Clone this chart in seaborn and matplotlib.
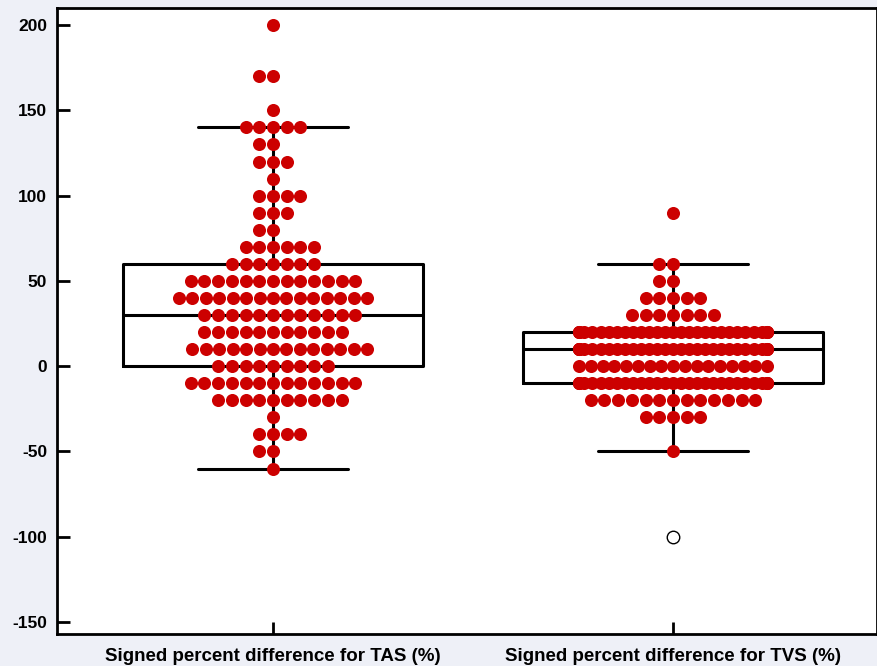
import numpy as np
import pandas as pd
import matplotlib
matplotlib.use("Agg")
import matplotlib.pyplot as plt
import seaborn as sns

# categories
cats = ["Signed percent difference for TAS (%)", "Signed percent difference for TVS (%)"]

# TAS: value levels (%) and how many patients sit on each level
tas_levels = [200, 170, 150, 140, 130, 120, 110, 100, 90, 80, 70, 60, 50, 40,
              30, 20, 10, 0, -10, -20, -30, -40, -50, -60]
tas_counts = [1, 2, 1, 5, 2, 3, 1, 4, 3, 2, 6, 7, 13, 15,
              12, 11, 14, 9, 13, 10, 1, 4, 2, 1]

# TVS: same thing
tvs_levels = [90, 60, 50, 40, 30, 20, 10, 0, -10, -20, -30, -50]
tvs_counts = [1, 2, 2, 5, 7, 29, 30, 17, 29, 13, 5, 1]
tvs_far_out = [-100]   # drawn as open circle only

red = "#cc0000"
bg = "#eef0f7"

tas_vals = np.repeat(tas_levels, tas_counts)
tvs_vals = np.repeat(tvs_levels, tvs_counts)

dots = pd.DataFrame({
    "measure": [cats[0]] * len(tas_vals) + [cats[1]] * len(tvs_vals),
    "value": np.concatenate([tas_vals, tvs_vals]).astype(float),
})
far = pd.DataFrame({"measure": [cats[1]] * len(tvs_far_out), "value": tvs_far_out})
allv = pd.concat([dots, far], ignore_index=True)

sns.set_style("white")
plt.rcParams["font.family"] = ["Liberation Sans", "DejaVu Sans"]
plt.rcParams["font.weight"] = "bold"
plt.rcParams["axes.unicode_minus"] = False

fig = plt.figure(figsize=(8.78, 6.66), dpi=100, facecolor=bg)
ax = fig.add_axes([57 / 878, 32 / 666, 820 / 878, 626 / 666])
ax.set_facecolor("white")

sns.boxplot(data=allv, x="measure", y="value", order=cats, whis=1.4,
            width=0.75, fill=False, color="black", linewidth=2.2,
            showfliers=False, ax=ax)

n0 = len(ax.collections)
sns.swarmplot(data=dots, x="measure", y="value", order=cats, color=red,
              size=9.4, linewidth=0, warn_thresh=1, zorder=3, ax=ax)
swarms = ax.collections[n0:]

ax.set_xlim(-0.54, 1.51)
ax.set_ylim(-157, 210)

# let seaborn lay out the swarms, then squeeze over-wide rows like the original
fig.canvas.draw()
limit = 0.235
for coll in swarms:
    if "draw" in coll.__dict__:
        del coll.draw
    xy = np.array(coll.get_offsets())
    if len(xy) == 0:
        continue
    center = np.round(np.median(xy[:, 0]))
    for yv in np.unique(xy[:, 1]):
        idx = xy[:, 1] == yv
        dx = xy[idx, 0] - center
        span = np.abs(dx).max()
        if span > limit:
            xy[idx, 0] = center + dx * limit / span
    coll.set_offsets(xy)

sns.stripplot(data=far, x="measure", y="value", order=cats, jitter=False,
              color="white", edgecolor="black", linewidth=1, size=9,
              zorder=4, ax=ax)

ax.set_xlim(-0.54, 1.51)
ax.set_ylim(-157, 210)
ax.set_yticks([200, 150, 100, 50, 0, -50, -100, -150])
ax.set_xlabel("")
ax.set_ylabel("")
ax.tick_params(axis="both", direction="in", length=9, width=2, color="black",
               labelcolor="black", left=True, bottom=True)
ax.tick_params(axis="y", labelsize=12.5, pad=7)
ax.tick_params(axis="x", pad=10, labelsize=13.5)
for lab in ax.get_xticklabels() + ax.get_yticklabels():
    lab.set_fontweight("bold")
for s in ax.spines.values():
    s.set_linewidth(2)
    s.set_color("black")

fig.savefig("out.png", dpi=100, facecolor=bg)
